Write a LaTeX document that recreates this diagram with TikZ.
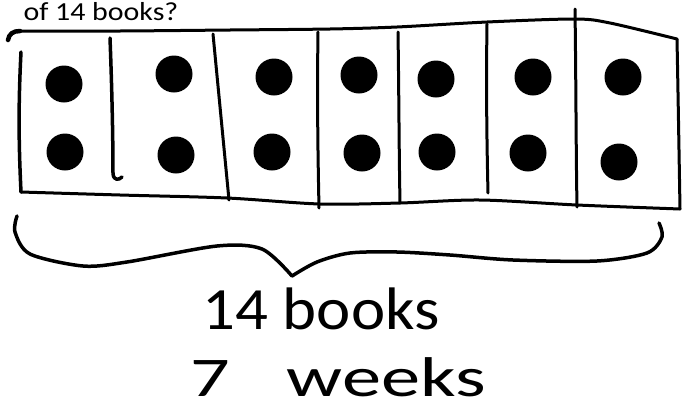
\documentclass[tikz,border=0pt]{standalone}
\usepackage{fontspec}
\usepackage{graphicx}
\setmainfont{Carlito}
\begin{document}
\begin{tikzpicture}[x=1pt, y=-1pt, line join=round, line cap=round, line width=3pt]
			\useasboundingbox (0,0) rectangle (683,410);
			
			\coordinate (TL) at (20,31);
			\coordinate (TR) at (677,39);
			\coordinate (BL) at (21,192);
			\coordinate (BR) at (680,209);
			\coordinate (T) at (292,276);
			
			% outline of the strip
			\draw[line width=4.5pt] (8,40) .. controls (9,34) and (13,31) .. (TL);
			\draw plot[smooth] coordinates {(TL) (120,31) (230,30) (330,29) (397,27) (487,22) (575,19) (610,23) (TR)};
			\draw[line width=3.5pt] (21,52) .. controls (18,110) and (19,150) .. (BL);
			\draw plot[smooth] coordinates {(BL) (120,195) (227,198) (320,204) (400,203) (480,200) (577,205) (BR)};
			\draw (TR) .. controls (678,90) and (679,150) .. (BR);
			
			% dividers
			\draw[line width=3.5pt] (110,38) .. controls (112,90) and (113,140) .. (113,174) .. controls (114,181) and (119,180) .. (122,177);
			\draw (213,34) -- (229,200);
			\draw (318,32) .. controls (317,100) and (318,160) .. (319,208);
			\draw (398,32) .. controls (399,100) and (399,150) .. (400,203);
			\draw (487,24) .. controls (486,90) and (487,150) .. (488,193);
			\draw (575,9) .. controls (576,80) and (576,150) .. (577,207);
			
			\foreach \p in {(64,84),(65,152),(174,74),(176,155),(274,77),(272,152),(359,75),(362,153),(436,79),(437,152),(533,77),(528,153),(623,77),(619,162)} { \fill \p circle (18.5); }
			
			% brace
			\draw[line width=3.5pt] plot[smooth] coordinates {(17,216) (15,232) (30,254) (83,266) (127,262) (217,246) (262,249) (T)};
			\draw[line width=3.5pt] plot[smooth] coordinates {(T) (317,262) (350,253) (397,252) (450,255) (513,260) (597,261) (647,253) (662,237) (659,223)};
			
			\node[font=\fontsize{26}{26}\selectfont, anchor=base west, inner sep=0pt] (question) at (22,20) {\scalebox{1.15}[1]{of 14 books?}};
			\node[font=\fontsize{60}{60}\selectfont, anchor=base, inner sep=0pt] (books) at (321,329) {\scalebox{1.08}[1]{14 books}};
			\node[font=\fontsize{56}{56}\selectfont, anchor=base, inner sep=0pt] (weeks) at (338,396) {\scalebox{1.4}[1]{7\hspace{0.5em} weeks}};
	\end{tikzpicture}
\end{document}
